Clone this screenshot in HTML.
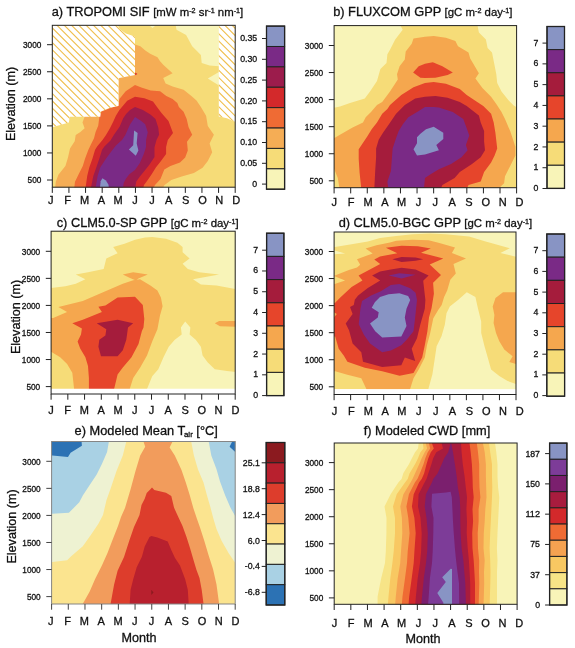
<!DOCTYPE html>
<html><head><meta charset="utf-8"><style>
html,body{margin:0;padding:0;background:#fff;width:575px;height:648px;overflow:hidden}
svg{display:block;font-family:"Liberation Sans", sans-serif;will-change:transform}
text{fill:#111;stroke:#111;stroke-width:0.3px}
</style></head><body>
<svg width="575" height="648" viewBox="0 0 575 648">
<rect width="575" height="648" fill="#fff"/>
<defs>
<clipPath id="clipa"><rect x="52.3" y="25.3" width="182.90" height="161.90"/></clipPath>
<clipPath id="clipb"><rect x="334.1" y="25.6" width="182.50" height="162.10"/></clipPath>
<clipPath id="clipc"><rect x="51.1" y="231.2" width="184.10" height="162.80"/></clipPath>
<clipPath id="clipd"><rect x="334.1" y="232.0" width="181.90" height="162.50"/></clipPath>
<clipPath id="clipe"><rect x="51.6" y="441.5" width="183.60" height="162.50"/></clipPath>
<clipPath id="clipf"><rect x="334.2" y="443.0" width="182.90" height="161.30"/></clipPath>
</defs>
<g clip-path="url(#clipa)">
<polygon points="51.0,24.0 237.0,24.0 237.0,189.0 51.0,189.0" fill="#f6dc78"/>
<polygon points="149.0,25.3 156.0,25.3 152.5,28.0" fill="#f8f4b8"/>
<polygon points="175.7,24.0 175.7,25.3 176.5,29.8 186.1,35.0 192.2,46.3 200.9,55.0 201.7,62.9 209.6,65.5 219.0,66.3 219.0,24.0" fill="#f8f4b8"/>
<polygon points="219.0,72.0 207.8,78.5 219.0,85.5" fill="#f8f4b8"/>
<polygon points="135.0,44.5 140.4,46.3 145.3,50.6 150.2,53.7 157.5,57.3 159.9,61.0 163.2,64.7 172.6,73.3 163.2,78.0 165.6,83.5 172.6,86.6 183.6,89.7 191.4,96.0 196.5,100.5 200.9,107.0 206.1,115.7 207.8,126.1 213.9,134.8 209.6,143.5 212.2,152.2 207.8,160.9 202.6,167.8 193.9,173.0 181.7,176.5 171.3,180.0 164.3,185.2 162.6,189.0 55.0,189.0 55.8,181.7 58.4,174.8 65.4,166.1 68.0,157.4 70.0,148.6 74.7,141.3 75.7,135.0 80.4,131.9 84.6,128.3 82.5,122.5 84.6,116.8 90.0,110.0 118.0,90.0 120.0,60.0" fill="#f5ad55"/>
<polygon points="100.3,112.1 99.2,118.3 98.2,125.7 95.6,131.9 94.0,138.2 90.9,144.4 88.3,150.0 85.0,158.7 82.8,166.1 78.4,174.8 75.0,181.7 74.1,189.0 153.0,189.0 155.0,185.0 160.5,179.0 164.3,169.6 170.4,166.1 180.0,162.6 185.2,157.4 187.8,150.4 187.0,141.7 192.2,134.8 188.5,127.0 186.7,119.0 183.6,111.7 178.9,107.0 177.3,103.0 172.6,99.1 166.3,96.0 160.1,91.3 150.7,90.5 141.3,87.4 135.0,85.0 125.7,91.3 119.4,99.1 118.6,105.0" fill="#ef6b34"/>
<polygon points="127.2,100.7 135.0,96.8 144.4,98.3 153.0,101.5 157.0,107.0 161.7,113.2 168.5,121.0 173.0,133.0 167.8,140.0 166.1,147.0 166.1,153.9 161.0,161.0 156.0,167.3 151.5,174.5 147.0,181.0 144.0,185.0 143.0,189.0 85.4,189.0 87.2,176.1 89.3,167.4 92.4,158.7 95.0,150.0 97.1,146.5 102.5,140.0 106.0,135.0 109.7,128.8 113.3,121.5 115.9,115.7 119.4,110.1" fill="#d3292b"/>
<polygon points="135.0,107.0 142.9,110.1 150.7,114.8 155.5,119.0 158.3,127.8 159.1,134.8 156.5,140.0 154.5,147.3 154.5,157.0 149.7,164.3 144.8,170.4 139.9,176.5 136.3,181.4 135.0,189.0 90.7,189.0 93.3,176.1 96.3,167.4 99.3,158.7 102.0,150.0 104.4,146.5 110.5,140.5 113.8,135.0 119.6,126.7 123.2,118.3 126.3,113.7 130.0,110.0" fill="#9c1c4c"/>
<polygon points="135.0,117.1 141.3,121.0 145.2,124.3 147.8,132.2 146.1,140.0 146.0,147.3 143.6,154.6 139.9,163.1 135.0,170.0 129.3,174.3 125.9,178.7 123.7,183.0 122.8,189.0 95.4,189.0 97.6,176.1 100.2,167.4 105.9,158.7 112.4,150.0 115.9,145.5 122.0,140.0 125.3,135.0 130.0,124.6" fill="#7a2a86"/>
<polygon points="134.1,130.4 137.6,133.0 136.7,143.5 138.4,150.4 135.8,155.7 128.9,149.6 133.2,145.2" fill="#8894c4"/>
<polygon points="102.4,178.3 105.9,180.4 108.5,184.8 108.9,189.0 99.8,189.0 100.7,181.3" fill="#8894c4"/>
<polygon points="135.2,72.6 137.4,73.9 135.2,75.2" fill="#d3292b"/>
<clipPath id="hclip"><polygon points="51.0,24.0 117.9,24.0 117.9,25.6 119.7,29.3 125.8,33.6 135.0,36.6 135.0,74.9 119.4,78.0 118.6,78.8 118.6,105.4 118.4,106.1 110.0,107.7 101.0,111.6 100.3,116.8 69.7,116.8 68.9,122.6 53.2,127.0 51.0,127.0"/><polygon points="218.8,24.0 237.0,24.0 237.0,121.7 234.8,121.7 227.0,118.3 218.8,116.5"/></clipPath><polygon points="51.0,24.0 117.9,24.0 117.9,25.6 119.7,29.3 125.8,33.6 135.0,36.6 135.0,74.9 119.4,78.0 118.6,78.8 118.6,105.4 118.4,106.1 110.0,107.7 101.0,111.6 100.3,116.8 69.7,116.8 68.9,122.6 53.2,127.0 51.0,127.0" fill="#fff"/><polygon points="218.8,24.0 237.0,24.0 237.0,121.7 234.8,121.7 227.0,118.3 218.8,116.5" fill="#fff"/><path clip-path="url(#hclip)" d="M-174.60 20L5.40 200M-167.30 20L12.70 200M-160.00 20L20.00 200M-152.70 20L27.30 200M-145.40 20L34.60 200M-138.10 20L41.90 200M-130.80 20L49.20 200M-123.50 20L56.50 200M-116.20 20L63.80 200M-108.90 20L71.10 200M-101.60 20L78.40 200M-94.30 20L85.70 200M-87.00 20L93.00 200M-79.70 20L100.30 200M-72.40 20L107.60 200M-65.10 20L114.90 200M-57.80 20L122.20 200M-50.50 20L129.50 200M-43.20 20L136.80 200M-35.90 20L144.10 200M-28.60 20L151.40 200M-21.30 20L158.70 200M-14.00 20L166.00 200M-6.70 20L173.30 200M0.60 20L180.60 200M7.90 20L187.90 200M15.20 20L195.20 200M22.50 20L202.50 200M29.80 20L209.80 200M37.10 20L217.10 200M44.40 20L224.40 200M51.70 20L231.70 200M59.00 20L239.00 200M66.30 20L246.30 200M73.60 20L253.60 200M80.90 20L260.90 200M88.20 20L268.20 200M95.50 20L275.50 200M102.80 20L282.80 200M110.10 20L290.10 200M117.40 20L297.40 200M124.70 20L304.70 200M132.00 20L312.00 200M139.30 20L319.30 200M146.60 20L326.60 200M153.90 20L333.90 200M161.20 20L341.20 200M168.50 20L348.50 200M175.80 20L355.80 200M183.10 20L363.10 200M190.40 20L370.40 200M197.70 20L377.70 200M205.00 20L385.00 200M212.30 20L392.30 200M219.60 20L399.60 200M226.90 20L406.90 200M234.20 20L414.20 200M241.50 20L421.50 200M248.80 20L428.80 200M256.10 20L436.10 200" stroke="#f0c050" stroke-width="1.15" fill="none"/>
</g>
<rect x="52.3" y="25.3" width="182.90" height="161.90" fill="none" stroke="#222" stroke-width="1"/>
<path d="M52.30 187.20V192.90M68.93 187.20V192.90M85.55 187.20V192.90M102.18 187.20V192.90M118.81 187.20V192.90M135.44 187.20V192.90M152.06 187.20V192.90M168.69 187.20V192.90M185.32 187.20V192.90M201.95 187.20V192.90M218.57 187.20V192.90M235.20 187.20V192.90M47.00 44.70H52.30M47.00 71.76H52.30M47.00 98.82H52.30M47.00 125.88H52.30M47.00 152.94H52.30M47.00 180.00H52.30" stroke="#222" stroke-width="1" fill="none"/>
<text x="50.80" y="203.90" font-size="11" text-anchor="middle">J</text>
<text x="67.65" y="203.90" font-size="11" text-anchor="middle">F</text>
<text x="84.50" y="203.90" font-size="11" text-anchor="middle">M</text>
<text x="101.35" y="203.90" font-size="11" text-anchor="middle">A</text>
<text x="118.20" y="203.90" font-size="11" text-anchor="middle">M</text>
<text x="135.05" y="203.90" font-size="11" text-anchor="middle">J</text>
<text x="151.90" y="203.90" font-size="11" text-anchor="middle">J</text>
<text x="168.75" y="203.90" font-size="11" text-anchor="middle">A</text>
<text x="185.60" y="203.90" font-size="11" text-anchor="middle">S</text>
<text x="202.45" y="203.90" font-size="11" text-anchor="middle">O</text>
<text x="219.30" y="203.90" font-size="11" text-anchor="middle">N</text>
<text x="236.15" y="203.90" font-size="11" text-anchor="middle">D</text>
<text x="41.40" y="48.10" font-size="8.8" text-anchor="end" textLength="18.4" lengthAdjust="spacingAndGlyphs">3000</text>
<text x="41.40" y="75.16" font-size="8.8" text-anchor="end" textLength="18.4" lengthAdjust="spacingAndGlyphs">2500</text>
<text x="41.40" y="102.22" font-size="8.8" text-anchor="end" textLength="18.4" lengthAdjust="spacingAndGlyphs">2000</text>
<text x="41.40" y="129.28" font-size="8.8" text-anchor="end" textLength="18.4" lengthAdjust="spacingAndGlyphs">1500</text>
<text x="41.40" y="156.34" font-size="8.8" text-anchor="end" textLength="18.4" lengthAdjust="spacingAndGlyphs">1000</text>
<text x="41.40" y="183.40" font-size="8.8" text-anchor="end" textLength="13.8" lengthAdjust="spacingAndGlyphs">500</text>
<g clip-path="url(#clipb)">
<polygon points="333.0,24.0 518.0,24.0 518.0,189.0 333.0,189.0" fill="#f6dc78"/>
<polygon points="333.0,24.0 399.6,24.0 402.7,29.8 395.2,39.4 390.0,49.8 387.4,54.2 386.5,62.9 380.4,69.0 377.0,81.1 370.0,91.6 364.8,98.5 350.0,103.0 340.0,106.5 333.0,108.0" fill="#f8f4b8"/>
<polygon points="477.2,24.0 478.9,32.4 485.9,39.4 487.6,48.1 492.0,52.4 494.6,65.5 496.3,74.2 497.2,82.9 501.5,91.6 508.5,100.3 513.7,105.5 518.0,108.0 518.0,24.0" fill="#f8f4b8"/>
<polygon points="333.0,138.9 340.4,134.6 352.6,127.6 363.0,122.4 365.7,117.2 371.0,112.0 377.0,105.0 382.2,102.0 390.0,91.6 397.8,79.4 397.0,74.2 399.6,66.3 404.8,59.4 405.7,51.6 411.7,43.7 413.5,38.5 425.0,36.8 433.7,35.9 445.9,37.7 455.4,41.1 458.0,46.3 468.5,52.4 470.2,58.5 478.9,73.3 475.4,78.5 482.4,88.1 491.1,96.8 496.3,104.0 501.5,112.0 505.0,118.9 510.2,131.1 515.4,146.7 515.4,155.4 510.2,165.9 505.0,176.3 504.1,183.3 498.0,189.0 339.6,189.0 337.8,178.0 334.3,169.3 333.0,169.3" fill="#f5a74e"/>
<polygon points="413.1,72.4 418.7,66.3 425.0,63.7 432.8,62.3 442.4,66.3 452.8,72.4 447.6,75.0 435.4,77.7 425.0,78.0 420.4,77.7" fill="#e6452b"/>
<polygon points="390.0,105.0 401.3,95.0 413.5,87.2 425.0,82.9 433.7,82.0 445.9,83.7 459.8,89.0 466.7,95.0 477.2,102.0 483.3,106.0 491.1,113.7 493.7,122.4 495.4,132.8 497.2,148.5 494.6,155.4 491.1,162.4 484.1,172.0 480.7,181.5 468.5,185.0 466.7,189.0 361.3,189.0 359.6,172.8 358.7,158.9 358.7,149.3 367.4,136.3 371.7,129.3 377.0,122.4 382.2,113.7 387.4,109.0" fill="#e6452b"/>
<polygon points="404.8,105.0 415.2,98.5 425.0,96.8 435.4,95.9 447.6,97.7 459.8,102.0 466.7,106.0 478.9,115.4 480.7,122.4 484.1,131.1 484.1,141.5 485.0,150.2 480.7,157.2 472.0,164.1 459.8,172.0 454.6,178.0 442.4,185.0 440.7,189.0 374.3,189.0 375.2,171.1 376.1,157.2 376.1,148.5 378.7,139.8 383.0,132.8 389.1,124.1 396.1,113.7" fill="#a51c3c"/>
<polygon points="418.7,111.1 425.0,107.0 433.7,106.9 438.9,107.6 452.8,112.0 463.3,118.9 465.9,125.9 469.3,135.4 465.9,145.0 467.6,150.2 461.5,157.2 451.1,164.1 438.9,169.3 430.2,174.6 425.0,178.0 423.9,189.0 388.3,189.0 387.4,181.5 390.9,171.1 391.7,160.7 392.6,148.5 396.1,138.0 398.7,131.1 403.0,124.1 408.3,117.2" fill="#7a2a86"/>
<polygon points="413.5,149.3 417.0,143.3 417.0,137.2 420.4,133.7 426.0,129.3 433.7,126.7 443.3,132.8 443.3,138.9 436.3,145.0 438.9,150.2 425.0,154.6 417.0,155.4" fill="#8894c4"/>
</g>
<rect x="334.1" y="25.6" width="182.50" height="162.10" fill="none" stroke="#222" stroke-width="1"/>
<path d="M334.10 187.70V193.40M350.69 187.70V193.40M367.28 187.70V193.40M383.87 187.70V193.40M400.46 187.70V193.40M417.05 187.70V193.40M433.65 187.70V193.40M450.24 187.70V193.40M466.83 187.70V193.40M483.42 187.70V193.40M500.01 187.70V193.40M516.60 187.70V193.40M328.80 45.50H334.10M328.80 72.56H334.10M328.80 99.62H334.10M328.80 126.68H334.10M328.80 153.74H334.10M328.80 180.80H334.10" stroke="#222" stroke-width="1" fill="none"/>
<text x="334.30" y="206.00" font-size="11" text-anchor="middle">J</text>
<text x="351.14" y="206.00" font-size="11" text-anchor="middle">F</text>
<text x="367.98" y="206.00" font-size="11" text-anchor="middle">M</text>
<text x="384.82" y="206.00" font-size="11" text-anchor="middle">A</text>
<text x="401.66" y="206.00" font-size="11" text-anchor="middle">M</text>
<text x="418.50" y="206.00" font-size="11" text-anchor="middle">J</text>
<text x="435.34" y="206.00" font-size="11" text-anchor="middle">J</text>
<text x="452.18" y="206.00" font-size="11" text-anchor="middle">A</text>
<text x="469.02" y="206.00" font-size="11" text-anchor="middle">S</text>
<text x="485.86" y="206.00" font-size="11" text-anchor="middle">O</text>
<text x="502.70" y="206.00" font-size="11" text-anchor="middle">N</text>
<text x="519.54" y="206.00" font-size="11" text-anchor="middle">D</text>
<text x="323.20" y="48.90" font-size="8.8" text-anchor="end" textLength="18.4" lengthAdjust="spacingAndGlyphs">3000</text>
<text x="323.20" y="75.96" font-size="8.8" text-anchor="end" textLength="18.4" lengthAdjust="spacingAndGlyphs">2500</text>
<text x="323.20" y="103.02" font-size="8.8" text-anchor="end" textLength="18.4" lengthAdjust="spacingAndGlyphs">2000</text>
<text x="323.20" y="130.08" font-size="8.8" text-anchor="end" textLength="18.4" lengthAdjust="spacingAndGlyphs">1500</text>
<text x="323.20" y="157.14" font-size="8.8" text-anchor="end" textLength="18.4" lengthAdjust="spacingAndGlyphs">1000</text>
<text x="323.20" y="184.20" font-size="8.8" text-anchor="end" textLength="13.8" lengthAdjust="spacingAndGlyphs">500</text>
<g clip-path="url(#clipc)">
<polygon points="50.0,230.0 237.0,230.0 237.0,389.0 50.0,389.0" fill="#f6dc78"/>
<polygon points="50.0,230.0 50.0,288.0 65.4,286.3 75.8,283.7 85.4,279.3 75.8,274.6 88.0,272.3 103.7,268.9 106.3,258.4 117.6,253.2 113.2,247.1 124.5,243.7 135.0,239.8 145.0,237.5 152.2,237.0 166.1,238.8 177.4,242.8 182.6,247.1 182.6,252.3 189.6,258.4 182.6,263.7 187.8,268.9 199.1,272.3 219.1,274.6 193.0,279.3 200.9,284.5 216.5,285.4 235.3,288.9 237.0,288.9 237.0,230.0" fill="#f8f4b8"/>
<polygon points="147.0,389.0 152.2,376.3 158.3,369.3 163.5,357.2 168.7,346.7 174.8,339.8 181.7,334.6 180.9,327.6 185.2,321.5 190.4,327.6 189.6,334.6 195.7,339.8 200.9,346.7 202.6,355.4 207.8,362.4 214.8,369.3 227.0,371.1 237.0,372.0 237.0,389.0" fill="#f8f4b8"/>
<polygon points="122.8,274.6 133.2,272.3 147.8,274.6 138.4,278.4 136.0,280.5 130.0,278.0" fill="#f5a74e"/>
<polygon points="58.4,307.1 82.8,301.0 96.7,295.0 110.6,288.9 122.8,283.7 133.2,280.2 140.0,279.3 150.4,285.4 157.4,290.6 160.9,297.6 162.6,306.3 160.0,315.4 157.4,329.3 152.2,341.5 147.0,355.4 140.2,367.6 133.2,378.0 129.7,389.0 74.1,389.0 72.3,372.8 67.1,364.1 60.2,357.2 51.5,352.0 50.0,352.0 50.0,318.0 53.2,318.0 67.1,312.0" fill="#f5a74e"/>
<polygon points="214.8,323.3 219.1,321.0 237.0,321.0 237.0,326.7 220.0,326.2" fill="#f5a74e"/>
<polygon points="98.4,306.7 105.4,305.4 117.6,297.6 135.0,296.7 142.8,305.0 144.3,318.9 143.5,327.6 141.9,331.1 138.5,344.0 131.5,357.2 122.8,367.6 117.6,374.6 114.1,389.0 88.9,389.0 88.9,378.0 88.0,365.9 85.4,357.2 80.2,348.5 77.6,341.5 81.0,334.6 81.9,328.5 72.3,323.3 82.8,319.8 101.9,312.0" fill="#e6452b"/>
<polygon points="96.7,323.3 117.6,319.8 133.2,323.3 128.0,327.6 126.3,339.8 122.8,350.2 117.6,356.3 101.0,356.3 98.4,346.7 99.3,339.8 105.4,335.4 106.3,329.3" fill="#a51c3c"/>
<polygon points="50.0,388.8 237.0,388.8 237.0,400.0 50.0,400.0" fill="#ffffff"/>
</g>
<rect x="51.1" y="231.2" width="184.10" height="162.80" fill="none" stroke="#222" stroke-width="1"/>
<path d="M51.10 394.00V399.70M67.84 394.00V399.70M84.57 394.00V399.70M101.31 394.00V399.70M118.05 394.00V399.70M134.78 394.00V399.70M151.52 394.00V399.70M168.25 394.00V399.70M184.99 394.00V399.70M201.73 394.00V399.70M218.46 394.00V399.70M235.20 394.00V399.70M45.80 251.30H51.10M45.80 278.36H51.10M45.80 305.42H51.10M45.80 332.48H51.10M45.80 359.54H51.10M45.80 386.60H51.10" stroke="#222" stroke-width="1" fill="none"/>
<text x="50.90" y="413.60" font-size="11" text-anchor="middle">J</text>
<text x="67.67" y="413.60" font-size="11" text-anchor="middle">F</text>
<text x="84.44" y="413.60" font-size="11" text-anchor="middle">M</text>
<text x="101.21" y="413.60" font-size="11" text-anchor="middle">A</text>
<text x="117.98" y="413.60" font-size="11" text-anchor="middle">M</text>
<text x="134.75" y="413.60" font-size="11" text-anchor="middle">J</text>
<text x="151.52" y="413.60" font-size="11" text-anchor="middle">J</text>
<text x="168.29" y="413.60" font-size="11" text-anchor="middle">A</text>
<text x="185.06" y="413.60" font-size="11" text-anchor="middle">S</text>
<text x="201.83" y="413.60" font-size="11" text-anchor="middle">O</text>
<text x="218.60" y="413.60" font-size="11" text-anchor="middle">N</text>
<text x="235.37" y="413.60" font-size="11" text-anchor="middle">D</text>
<text x="40.20" y="254.70" font-size="8.8" text-anchor="end" textLength="18.4" lengthAdjust="spacingAndGlyphs">3000</text>
<text x="40.20" y="281.76" font-size="8.8" text-anchor="end" textLength="18.4" lengthAdjust="spacingAndGlyphs">2500</text>
<text x="40.20" y="308.82" font-size="8.8" text-anchor="end" textLength="18.4" lengthAdjust="spacingAndGlyphs">2000</text>
<text x="40.20" y="335.88" font-size="8.8" text-anchor="end" textLength="18.4" lengthAdjust="spacingAndGlyphs">1500</text>
<text x="40.20" y="362.94" font-size="8.8" text-anchor="end" textLength="18.4" lengthAdjust="spacingAndGlyphs">1000</text>
<text x="40.20" y="390.00" font-size="8.8" text-anchor="end" textLength="13.8" lengthAdjust="spacingAndGlyphs">500</text>
<g clip-path="url(#clipd)">
<polygon points="333.0,231.0 517.0,231.0 517.0,389.2 333.0,389.2" fill="#f6dc78"/>
<polygon points="333.0,231.0 517.0,231.0 517.0,257.0 500.4,253.0 509.8,248.3 484.8,241.3 469.1,236.6 445.7,234.3 430.0,233.5 412.4,234.3 396.2,235.9 380.0,238.1 367.8,241.5 351.6,244.2 334.9,246.9 333.0,246.9" fill="#f8f4b8"/>
<polygon points="333.0,250.1 345.1,253.4 333.0,254.4" fill="#f8f4b8"/>
<polygon points="428.3,389.2 432.4,374.3 434.9,357.8 436.6,346.3 441.5,336.3 444.8,324.8 446.5,313.2 449.8,306.6 458.0,300.0 466.8,292.2 475.4,296.9 477.9,308.3 481.2,321.5 481.2,333.0 484.5,346.3 487.8,357.8 491.1,369.4 499.3,376.0 507.6,381.0 517.0,384.3 517.0,389.2" fill="#f8f4b8"/>
<polygon points="334.9,275.5 348.9,270.1 357.0,267.4 360.2,264.7 357.0,259.3 372.7,253.4 365.6,248.5 376.5,245.3 390.0,242.6 396.2,240.8 412.4,239.7 428.6,240.3 439.4,242.9 455.0,247.6 451.9,253.0 466.0,258.5 453.5,264.0 455.8,273.4 450.3,279.7 447.2,290.6 444.1,296.9 441.7,305.0 438.2,310.0 433.3,318.2 430.0,334.0 427.0,345.0 424.8,357.4 418.7,369.6 413.5,378.3 410.0,389.2 366.5,389.2 361.3,378.3 347.4,374.8 335.2,371.3 333.0,371.3 333.0,284.7 345.1,280.4 333.0,275.5" fill="#f5a74e"/>
<polygon points="517.0,292.2 503.0,292.2 495.5,298.0 492.7,306.6 494.4,314.9 493.6,323.1 496.0,333.0 499.3,341.3 504.3,349.6 512.6,356.2 509.3,362.0 517.0,364.4" fill="#f5a74e"/>
<polygon points="385.9,247.8 401.6,245.7 417.8,246.2 430.8,248.4 421.0,252.7 443.3,258.5 429.7,264.6 441.0,275.0 433.1,282.8 433.9,293.7 431.6,308.0 429.0,317.4 427.4,331.3 424.8,345.2 422.2,357.4 413.5,373.0 399.6,375.7 382.2,371.3 364.8,367.8 347.4,361.7 343.9,355.7 338.7,348.7 335.2,336.5 333.0,336.5 333.0,303.0 334.9,303.0 340.8,297.0 343.0,295.0 351.6,286.9 362.4,280.4 358.6,275.5 380.2,264.0 374.3,259.6 380.0,256.5 397.3,253.2" fill="#e6452b"/>
<polygon points="333.0,311.7 336.8,314.1 333.0,318.8" fill="#f5a74e"/>
<polygon points="392.4,259.2 401.6,257.0 415.6,257.5 423.2,259.2 415.6,260.8 401.6,261.9" fill="#a51c3c"/>
<polygon points="372.1,275.5 380.0,271.6 390.8,269.4 401.6,267.8 415.6,269.4 428.6,275.4 423.2,280.8 424.3,290.5 425.4,300.0 424.8,308.7 420.4,324.3 417.0,338.3 411.7,348.7 415.2,360.9 404.8,357.4 401.3,365.2 382.2,367.0 363.0,361.7 361.3,352.2 352.6,343.5 349.1,330.4 345.7,323.5 352.6,313.9 350.0,307.0 353.8,305.0 354.8,299.8 358.1,295.5 367.8,287.9 380.2,280.4" fill="#a51c3c"/>
<polygon points="388.6,275.4 399.4,273.2 415.6,274.8 401.6,278.6" fill="#7a2a86"/>
<polygon points="371.0,295.5 380.8,291.2 390.8,285.1 399.4,284.0 410.2,288.3 415.6,292.7 417.0,300.0 415.2,317.4 413.5,331.3 406.5,340.0 401.3,345.2 390.9,350.4 382.2,352.2 370.0,343.5 363.9,334.8 358.7,324.3 360.4,308.7 362.0,301.0" fill="#7a2a86"/>
<polygon points="380.0,297.0 388.6,294.3 399.4,293.2 408.1,295.9 410.2,300.0 406.5,308.7 404.8,317.4 406.5,326.1 401.3,336.5 382.2,337.4 375.2,331.3 370.0,323.5 377.8,317.4 378.7,312.2 371.7,307.8 375.0,302.0" fill="#8894c4"/>
<polygon points="333.0,389.2 517.0,389.2 517.0,400.0 333.0,400.0" fill="#ffffff"/>
</g>
<rect x="334.1" y="232.0" width="181.90" height="162.50" fill="none" stroke="#222" stroke-width="1"/>
<path d="M334.10 394.50V400.20M350.64 394.50V400.20M367.17 394.50V400.20M383.71 394.50V400.20M400.25 394.50V400.20M416.78 394.50V400.20M433.32 394.50V400.20M449.85 394.50V400.20M466.39 394.50V400.20M482.93 394.50V400.20M499.46 394.50V400.20M516.00 394.50V400.20M328.80 251.50H334.10M328.80 278.56H334.10M328.80 305.62H334.10M328.80 332.68H334.10M328.80 359.74H334.10M328.80 386.80H334.10" stroke="#222" stroke-width="1" fill="none"/>
<text x="334.60" y="414.50" font-size="11" text-anchor="middle">J</text>
<text x="351.44" y="414.50" font-size="11" text-anchor="middle">F</text>
<text x="368.28" y="414.50" font-size="11" text-anchor="middle">M</text>
<text x="385.12" y="414.50" font-size="11" text-anchor="middle">A</text>
<text x="401.96" y="414.50" font-size="11" text-anchor="middle">M</text>
<text x="418.80" y="414.50" font-size="11" text-anchor="middle">J</text>
<text x="435.64" y="414.50" font-size="11" text-anchor="middle">J</text>
<text x="452.48" y="414.50" font-size="11" text-anchor="middle">A</text>
<text x="469.32" y="414.50" font-size="11" text-anchor="middle">S</text>
<text x="486.16" y="414.50" font-size="11" text-anchor="middle">O</text>
<text x="503.00" y="414.50" font-size="11" text-anchor="middle">N</text>
<text x="519.84" y="414.50" font-size="11" text-anchor="middle">D</text>
<text x="323.20" y="254.90" font-size="8.8" text-anchor="end" textLength="18.4" lengthAdjust="spacingAndGlyphs">3000</text>
<text x="323.20" y="281.96" font-size="8.8" text-anchor="end" textLength="18.4" lengthAdjust="spacingAndGlyphs">2500</text>
<text x="323.20" y="309.02" font-size="8.8" text-anchor="end" textLength="18.4" lengthAdjust="spacingAndGlyphs">2000</text>
<text x="323.20" y="336.08" font-size="8.8" text-anchor="end" textLength="18.4" lengthAdjust="spacingAndGlyphs">1500</text>
<text x="323.20" y="363.14" font-size="8.8" text-anchor="end" textLength="18.4" lengthAdjust="spacingAndGlyphs">1000</text>
<text x="323.20" y="390.20" font-size="8.8" text-anchor="end" textLength="13.8" lengthAdjust="spacingAndGlyphs">500</text>
<g clip-path="url(#clipe)">
<polygon points="50.0,440.0 237.0,440.0 237.0,606.0 50.0,606.0" fill="#eef2d2"/>
<polygon points="50.0,440.0 108.9,440.0 108.9,441.5 107.1,451.9 101.9,464.1 96.7,474.5 89.7,485.0 82.8,495.4 79.3,502.3 68.9,512.8 52.3,513.7 50.0,513.7" fill="#a9d1e4"/>
<polygon points="50.0,440.0 81.6,440.0 81.6,441.5 81.9,445.8 70.6,452.8 68.0,457.1 52.3,455.4 50.0,455.4" fill="#2c72b4"/>
<polygon points="208.7,440.0 208.7,441.5 211.3,455.4 216.5,469.3 220.0,481.5 225.2,495.4 230.4,507.6 235.3,516.3 237.0,516.3 237.0,440.0" fill="#a9d1e4"/>
<polygon points="232.2,440.0 232.2,441.5 229.6,446.7 235.3,451.9 237.0,451.9 237.0,440.0" fill="#2c72b4"/>
<polygon points="126.3,440.0 126.3,441.5 122.8,455.4 116.5,471.0 110.8,488.0 106.5,500.0 103.0,515.0 98.4,523.7 91.5,534.1 82.8,546.3 70.6,556.7 67.1,560.2 52.3,562.0 50.0,562.0 50.0,606.0 237.0,606.0 237.0,565.4 228.7,553.3 221.7,541.1 216.5,528.9 213.5,519.0 210.5,507.6 207.0,495.4 203.5,482.5 198.0,469.5 193.9,455.4 191.3,442.0 191.3,440.0" fill="#fbe48f"/>
<polygon points="143.5,440.0 143.5,441.5 145.2,446.7 140.2,455.4 135.5,471.0 130.5,489.5 125.0,508.0 121.0,517.0 118.0,526.0 112.5,540.0 107.5,553.0 101.9,565.4 95.0,579.3 89.7,591.5 82.8,603.7 82.0,606.0 219.5,606.0 219.1,603.7 216.5,584.6 213.0,568.9 208.5,555.0 204.5,541.5 200.0,527.5 197.0,519.0 193.3,508.0 189.7,495.0 185.8,482.5 181.5,470.0 174.8,455.4 169.6,447.6 172.2,442.3 172.2,440.0" fill="#f29c5c"/>
<polygon points="152.0,487.6 154.3,490.0 166.0,492.8 171.3,496.0 174.0,507.6 178.3,517.0 182.5,526.0 186.5,537.0 190.0,548.0 193.5,560.0 196.5,570.0 199.5,578.0 201.7,589.8 203.5,603.7 203.6,606.0 110.5,606.0 110.6,603.7 114.1,584.6 117.6,570.7 124.0,557.0 129.5,540.0 134.0,527.0 139.5,515.0 141.5,505.0 144.7,498.7 146.7,493.0 150.4,489.3" fill="#dd3d2c"/>
<polygon points="151.4,536.0 157.4,537.6 167.7,541.5 171.5,550.4 175.0,558.0 180.0,565.4 185.2,579.3 187.8,589.8 188.7,603.7 188.8,606.0 129.6,606.0 129.7,603.7 130.6,589.8 133.2,579.3 136.7,567.2 141.9,556.7 144.7,546.5 149.5,537.0" fill="#b8202e"/>
<polygon points="151.3,589.8 153.5,592.5 151.3,595.0" fill="#8b1a1f"/>
</g>
<rect x="51.6" y="441.5" width="183.60" height="162.50" fill="none" stroke="#858585" stroke-width="1"/>
<path d="M51.60 604.00V609.70M68.29 604.00V609.70M84.98 604.00V609.70M101.67 604.00V609.70M118.36 604.00V609.70M135.05 604.00V609.70M151.75 604.00V609.70M168.44 604.00V609.70M185.13 604.00V609.70M201.82 604.00V609.70M218.51 604.00V609.70M235.20 604.00V609.70M46.30 461.30H51.60M46.30 488.36H51.60M46.30 515.42H51.60M46.30 542.48H51.60M46.30 569.54H51.60M46.30 596.60H51.60" stroke="#444" stroke-width="1" fill="none"/>
<text x="50.80" y="624.70" font-size="11" text-anchor="middle">J</text>
<text x="67.60" y="624.70" font-size="11" text-anchor="middle">F</text>
<text x="84.40" y="624.70" font-size="11" text-anchor="middle">M</text>
<text x="101.20" y="624.70" font-size="11" text-anchor="middle">A</text>
<text x="118.00" y="624.70" font-size="11" text-anchor="middle">M</text>
<text x="134.80" y="624.70" font-size="11" text-anchor="middle">J</text>
<text x="151.60" y="624.70" font-size="11" text-anchor="middle">J</text>
<text x="168.40" y="624.70" font-size="11" text-anchor="middle">A</text>
<text x="185.20" y="624.70" font-size="11" text-anchor="middle">S</text>
<text x="202.00" y="624.70" font-size="11" text-anchor="middle">O</text>
<text x="218.80" y="624.70" font-size="11" text-anchor="middle">N</text>
<text x="235.60" y="624.70" font-size="11" text-anchor="middle">D</text>
<text x="40.70" y="464.70" font-size="8.8" text-anchor="end" textLength="18.4" lengthAdjust="spacingAndGlyphs">3000</text>
<text x="40.70" y="491.76" font-size="8.8" text-anchor="end" textLength="18.4" lengthAdjust="spacingAndGlyphs">2500</text>
<text x="40.70" y="518.82" font-size="8.8" text-anchor="end" textLength="18.4" lengthAdjust="spacingAndGlyphs">2000</text>
<text x="40.70" y="545.88" font-size="8.8" text-anchor="end" textLength="18.4" lengthAdjust="spacingAndGlyphs">1500</text>
<text x="40.70" y="572.94" font-size="8.8" text-anchor="end" textLength="18.4" lengthAdjust="spacingAndGlyphs">1000</text>
<text x="40.70" y="600.00" font-size="8.8" text-anchor="end" textLength="13.8" lengthAdjust="spacingAndGlyphs">500</text>
<g clip-path="url(#clipf)">
<polygon points="332.0,441.5 519.0,441.5 519.0,606.0 332.0,606.0" fill="#f8f4b8"/>
<polygon points="418.6,441.5 418.6,443.5 418.0,448.5 415.0,452.2 411.9,458.3 408.9,464.3 403.4,473.0 401.6,479.0 398.5,482.2 390.6,494.3 384.5,506.5 386.5,518.0 386.4,533.3 385.8,551.5 385.0,563.0 381.2,578.3 377.6,596.5 377.6,604.0 377.6,606.0 497.0,606.0 497.0,604.0 497.0,583.3 497.0,572.0 497.5,560.4 496.9,548.3 497.5,533.0 498.1,521.5 498.7,509.3 499.3,497.2 498.1,487.4 497.5,476.5 497.5,464.3 496.3,452.2 495.0,443.1 495.0,441.5" fill="#f7e487"/>
<polygon points="422.9,441.5 422.9,443.5 423.5,448.5 420.4,452.2 418.0,458.3 415.0,464.3 409.5,473.5 407.7,479.0 405.2,482.2 396.7,494.3 393.0,506.5 395.0,518.0 395.0,533.3 393.7,551.5 392.4,563.0 390.3,578.3 388.5,596.5 387.9,604.0 387.9,606.0 489.7,606.0 489.7,604.0 490.3,583.3 490.5,572.0 490.2,560.4 489.6,548.3 490.2,533.0 490.8,521.5 491.4,509.3 492.0,497.2 492.3,487.4 492.0,476.5 492.0,464.3 490.2,452.2 489.0,443.1 489.0,441.5" fill="#f8c862"/>
<polygon points="425.9,441.5 425.9,443.5 427.1,448.5 424.7,452.2 421.7,458.3 419.2,464.3 415.0,473.5 412.5,479.0 410.7,482.2 403.4,494.3 400.3,506.5 401.9,518.0 402.3,533.3 401.0,551.5 400.2,563.0 397.7,578.3 395.8,596.5 395.2,604.0 395.2,606.0 483.6,606.0 483.6,604.0 484.2,583.3 484.0,572.0 484.7,560.4 483.5,548.3 483.8,533.0 484.7,521.5 485.3,509.3 486.5,497.2 486.2,487.4 485.9,476.5 485.9,464.3 484.7,452.2 482.9,443.1 482.9,441.5" fill="#f5a251"/>
<polygon points="429.0,441.5 429.0,443.5 430.2,448.5 427.7,452.2 425.3,458.3 423.5,464.3 419.8,473.5 417.4,479.0 415.0,482.2 408.9,494.3 406.4,506.5 408.3,518.0 409.6,533.3 407.7,551.5 407.0,563.0 405.0,578.3 402.5,596.5 401.9,604.0 401.9,606.0 478.7,606.0 478.7,604.0 479.3,583.3 479.0,572.0 479.2,560.4 478.0,548.3 477.7,533.0 478.6,521.5 478.6,509.3 480.4,497.2 479.5,487.4 479.2,476.5 479.2,464.3 478.0,452.2 476.8,443.1 476.8,441.5" fill="#ef6b34"/>
<polygon points="432.0,441.5 432.0,443.5 433.8,448.5 430.8,452.2 428.3,458.3 426.5,464.3 424.1,473.5 421.7,479.0 419.2,482.2 413.7,494.3 411.9,506.5 414.4,518.0 415.7,533.3 414.4,551.5 413.7,563.0 411.7,578.3 409.2,596.5 408.6,604.0 408.6,606.0 475.0,606.0 475.0,604.0 475.0,583.3 474.4,572.0 473.7,560.4 472.5,548.3 472.2,533.0 473.1,521.5 472.5,509.3 473.7,497.2 472.8,487.4 472.5,476.5 471.9,464.3 470.7,452.2 469.5,443.1 469.5,441.5" fill="#d3292b"/>
<polygon points="441.7,441.5 441.7,443.5 443.0,448.5 436.3,452.2 433.2,458.3 431.4,464.3 428.3,473.5 426.5,479.0 424.7,482.2 418.6,494.3 418.0,506.5 420.5,518.0 421.7,533.3 421.1,551.5 420.0,563.0 417.7,578.3 415.9,596.5 415.3,604.0 415.3,606.0 470.2,606.0 470.2,604.0 470.2,583.3 469.6,572.0 468.9,560.4 467.7,548.3 466.7,533.0 467.0,521.5 466.4,509.3 467.0,497.2 465.8,487.4 464.6,476.5 462.8,464.3 461.6,452.2 461.0,443.1 461.0,441.5" fill="#a81c3e"/>
<polygon points="450.9,441.5 450.6,443.1 448.2,452.2 444.2,458.3 441.7,464.3 437.5,473.5 433.2,479.0 432.0,482.2 425.9,494.3 424.7,506.5 426.5,518.0 427.8,533.3 427.2,551.5 426.0,563.0 423.8,578.3 422.0,596.5 421.4,604.0 421.4,606.0 465.9,606.0 465.9,604.0 465.3,583.3 464.3,572.0 463.4,560.4 461.6,548.3 460.6,533.0 460.3,521.5 460.3,509.3 459.7,497.2 457.9,487.4 456.7,476.5 454.9,464.3 453.0,452.2 451.2,443.1" fill="#7b1f6e"/>
<polygon points="432.0,493.7 446.0,492.5 450.6,491.7 451.8,497.2 452.4,509.3 453.0,521.5 453.7,532.4 454.9,548.3 456.1,560.4 457.5,572.0 459.0,583.3 459.2,604.0 459.2,606.0 428.1,606.0 428.1,604.0 428.7,596.5 429.9,578.3 432.0,563.0 432.7,551.5 433.3,533.3 433.5,518.0 431.4,506.5 432.0,494.3" fill="#7d3c98"/>
<polygon points="450.7,568.7 452.0,569.0 452.0,606.0 443.4,606.0 443.4,602.7 437.3,593.0 445.8,582.0 442.2,577.2" fill="#8894c4"/>
</g>
<rect x="334.2" y="443.0" width="182.90" height="161.30" fill="none" stroke="#222" stroke-width="1"/>
<path d="M334.20 604.30V610.00M350.83 604.30V610.00M367.45 604.30V610.00M384.08 604.30V610.00M400.71 604.30V610.00M417.34 604.30V610.00M433.96 604.30V610.00M450.59 604.30V610.00M467.22 604.30V610.00M483.85 604.30V610.00M500.47 604.30V610.00M517.10 604.30V610.00M328.90 462.60H334.20M328.90 489.66H334.20M328.90 516.72H334.20M328.90 543.78H334.20M328.90 570.84H334.20M328.90 597.90H334.20" stroke="#222" stroke-width="1" fill="none"/>
<text x="334.40" y="627.30" font-size="11" text-anchor="middle">J</text>
<text x="351.20" y="627.30" font-size="11" text-anchor="middle">F</text>
<text x="368.00" y="627.30" font-size="11" text-anchor="middle">M</text>
<text x="384.80" y="627.30" font-size="11" text-anchor="middle">A</text>
<text x="401.60" y="627.30" font-size="11" text-anchor="middle">M</text>
<text x="418.40" y="627.30" font-size="11" text-anchor="middle">J</text>
<text x="435.20" y="627.30" font-size="11" text-anchor="middle">J</text>
<text x="452.00" y="627.30" font-size="11" text-anchor="middle">A</text>
<text x="468.80" y="627.30" font-size="11" text-anchor="middle">S</text>
<text x="485.60" y="627.30" font-size="11" text-anchor="middle">O</text>
<text x="502.40" y="627.30" font-size="11" text-anchor="middle">N</text>
<text x="519.20" y="627.30" font-size="11" text-anchor="middle">D</text>
<text x="323.30" y="466.00" font-size="8.8" text-anchor="end" textLength="18.4" lengthAdjust="spacingAndGlyphs">3000</text>
<text x="323.30" y="493.06" font-size="8.8" text-anchor="end" textLength="18.4" lengthAdjust="spacingAndGlyphs">2500</text>
<text x="323.30" y="520.12" font-size="8.8" text-anchor="end" textLength="18.4" lengthAdjust="spacingAndGlyphs">2000</text>
<text x="323.30" y="547.18" font-size="8.8" text-anchor="end" textLength="18.4" lengthAdjust="spacingAndGlyphs">1500</text>
<text x="323.30" y="574.24" font-size="8.8" text-anchor="end" textLength="18.4" lengthAdjust="spacingAndGlyphs">1000</text>
<text x="323.30" y="601.30" font-size="8.8" text-anchor="end" textLength="13.8" lengthAdjust="spacingAndGlyphs">500</text>
<text x="51.7" y="16.4" font-size="12.8">a) TROPOMI SIF <tspan font-size="11.4">[mW m<tspan font-size="7.2" dy="-3.3">-2</tspan><tspan dy="3.3"> sr</tspan><tspan font-size="7.2" dy="-3.3">-1</tspan><tspan dy="3.3"> nm</tspan><tspan font-size="7.2" dy="-3.3">-1</tspan><tspan dy="3.3">]</tspan></tspan></text>
<text x="333.2" y="16.4" font-size="12.8">b) FLUXCOM GPP <tspan font-size="11.4">[gC m<tspan font-size="7.2" dy="-3.3">-2</tspan><tspan dy="3.3"> day</tspan><tspan font-size="7.2" dy="-3.3">-1</tspan><tspan dy="3.3">]</tspan></tspan></text>
<text x="56.7" y="227.4" font-size="12.8">c) CLM5.0-SP GPP <tspan font-size="11.4">[gC m<tspan font-size="7.2" dy="-3.3">-2</tspan><tspan dy="3.3"> day</tspan><tspan font-size="7.2" dy="-3.3">-1</tspan><tspan dy="3.3">]</tspan></tspan></text>
<text x="338.7" y="227.4" font-size="12.8">d) CLM5.0-BGC GPP <tspan font-size="11.4">[gC m<tspan font-size="7.2" dy="-3.3">-2</tspan><tspan dy="3.3"> day</tspan><tspan font-size="7.2" dy="-3.3">-1</tspan><tspan dy="3.3">]</tspan></tspan></text>
<text x="74.6" y="435.3" font-size="12.8">e) Modeled Mean T<tspan font-size="8" dy="2.1" dx="-1.4">air</tspan><tspan dy="-2.1"> [°C]</tspan></text>
<text x="363.7" y="434.5" font-size="12.8">f) Modeled CWD [mm]</text>
<text transform="translate(15.2,104.0) rotate(-90)" font-size="12.6" text-anchor="middle">Elevation (m)</text>
<text transform="translate(19.7,317.0) rotate(-90)" font-size="12.6" text-anchor="middle">Elevation (m)</text>
<text transform="translate(16.4,526.5) rotate(-90)" font-size="12.6" text-anchor="middle">Elevation (m)</text>
<text x="139.1" y="642" font-size="12.6" text-anchor="middle">Month</text>
<text x="423" y="643.3" font-size="12.6" text-anchor="middle">Month</text>
<rect x="266.5" y="26.10" width="18.10" height="20.39" fill="#8894c4" stroke="#222" stroke-width="1"/>
<rect x="266.5" y="46.49" width="18.10" height="20.39" fill="#7a2a86" stroke="#222" stroke-width="1"/>
<rect x="266.5" y="66.88" width="18.10" height="20.39" fill="#9c1c4c" stroke="#222" stroke-width="1"/>
<rect x="266.5" y="87.26" width="18.10" height="20.39" fill="#d3292b" stroke="#222" stroke-width="1"/>
<rect x="266.5" y="107.65" width="18.10" height="20.39" fill="#ef6b34" stroke="#222" stroke-width="1"/>
<rect x="266.5" y="128.04" width="18.10" height="20.39" fill="#f5ad55" stroke="#222" stroke-width="1"/>
<rect x="266.5" y="148.42" width="18.10" height="20.39" fill="#f6dc78" stroke="#222" stroke-width="1"/>
<rect x="266.5" y="168.81" width="18.10" height="20.39" fill="#f8f4b8" stroke="#222" stroke-width="1"/>
<rect x="266.5" y="26.1" width="18.10" height="163.10" fill="none" stroke="#222" stroke-width="1.3"/>
<path d="M262.00 38.50H266.5" stroke="#222" stroke-width="1"/>
<text x="257.2" y="41.20" font-size="9.2" text-anchor="end" textLength="17.03" lengthAdjust="spacingAndGlyphs">0.35</text>
<path d="M262.00 59.30H266.5" stroke="#222" stroke-width="1"/>
<text x="257.2" y="62.00" font-size="9.2" text-anchor="end" textLength="17.03" lengthAdjust="spacingAndGlyphs">0.30</text>
<path d="M262.00 80.10H266.5" stroke="#222" stroke-width="1"/>
<text x="257.2" y="82.80" font-size="9.2" text-anchor="end" textLength="17.03" lengthAdjust="spacingAndGlyphs">0.25</text>
<path d="M262.00 100.90H266.5" stroke="#222" stroke-width="1"/>
<text x="257.2" y="103.60" font-size="9.2" text-anchor="end" textLength="17.03" lengthAdjust="spacingAndGlyphs">0.20</text>
<path d="M262.00 121.70H266.5" stroke="#222" stroke-width="1"/>
<text x="257.2" y="124.40" font-size="9.2" text-anchor="end" textLength="17.03" lengthAdjust="spacingAndGlyphs">0.15</text>
<path d="M262.00 142.50H266.5" stroke="#222" stroke-width="1"/>
<text x="257.2" y="145.20" font-size="9.2" text-anchor="end" textLength="17.03" lengthAdjust="spacingAndGlyphs">0.10</text>
<path d="M262.00 163.30H266.5" stroke="#222" stroke-width="1"/>
<text x="257.2" y="166.00" font-size="9.2" text-anchor="end" textLength="17.03" lengthAdjust="spacingAndGlyphs">0.05</text>
<path d="M262.00 184.10H266.5" stroke="#222" stroke-width="1"/>
<text x="257.2" y="186.80" font-size="9.2" text-anchor="end" textLength="4.87" lengthAdjust="spacingAndGlyphs">0</text>
<rect x="547" y="26.50" width="17.50" height="23.13" fill="#8894c4" stroke="#222" stroke-width="1"/>
<rect x="547" y="49.63" width="17.50" height="23.13" fill="#7a2a86" stroke="#222" stroke-width="1"/>
<rect x="547" y="72.76" width="17.50" height="23.13" fill="#a51c3c" stroke="#222" stroke-width="1"/>
<rect x="547" y="95.89" width="17.50" height="23.13" fill="#e6452b" stroke="#222" stroke-width="1"/>
<rect x="547" y="119.01" width="17.50" height="23.13" fill="#f5a74e" stroke="#222" stroke-width="1"/>
<rect x="547" y="142.14" width="17.50" height="23.13" fill="#f6dc78" stroke="#222" stroke-width="1"/>
<rect x="547" y="165.27" width="17.50" height="23.13" fill="#f8f4b8" stroke="#222" stroke-width="1"/>
<rect x="547" y="26.5" width="17.50" height="161.90" fill="none" stroke="#222" stroke-width="1.3"/>
<path d="M542.50 43.10H547" stroke="#222" stroke-width="1"/>
<text x="538.3" y="45.70" font-size="9.2" text-anchor="end" textLength="4.87" lengthAdjust="spacingAndGlyphs">7</text>
<path d="M542.50 63.87H547" stroke="#222" stroke-width="1"/>
<text x="538.3" y="66.47" font-size="9.2" text-anchor="end" textLength="4.87" lengthAdjust="spacingAndGlyphs">6</text>
<path d="M542.50 84.64H547" stroke="#222" stroke-width="1"/>
<text x="538.3" y="87.24" font-size="9.2" text-anchor="end" textLength="4.87" lengthAdjust="spacingAndGlyphs">5</text>
<path d="M542.50 105.41H547" stroke="#222" stroke-width="1"/>
<text x="538.3" y="108.01" font-size="9.2" text-anchor="end" textLength="4.87" lengthAdjust="spacingAndGlyphs">4</text>
<path d="M542.50 126.18H547" stroke="#222" stroke-width="1"/>
<text x="538.3" y="128.78" font-size="9.2" text-anchor="end" textLength="4.87" lengthAdjust="spacingAndGlyphs">3</text>
<path d="M542.50 146.95H547" stroke="#222" stroke-width="1"/>
<text x="538.3" y="149.55" font-size="9.2" text-anchor="end" textLength="4.87" lengthAdjust="spacingAndGlyphs">2</text>
<path d="M542.50 167.72H547" stroke="#222" stroke-width="1"/>
<text x="538.3" y="170.32" font-size="9.2" text-anchor="end" textLength="4.87" lengthAdjust="spacingAndGlyphs">1</text>
<path d="M542.50 188.49H547" stroke="#222" stroke-width="1"/>
<text x="538.3" y="191.09" font-size="9.2" text-anchor="end" textLength="4.87" lengthAdjust="spacingAndGlyphs">0</text>
<rect x="266.6" y="233.20" width="17.30" height="23.20" fill="#8894c4" stroke="#222" stroke-width="1"/>
<rect x="266.6" y="256.40" width="17.30" height="23.20" fill="#7a2a86" stroke="#222" stroke-width="1"/>
<rect x="266.6" y="279.60" width="17.30" height="23.20" fill="#a51c3c" stroke="#222" stroke-width="1"/>
<rect x="266.6" y="302.80" width="17.30" height="23.20" fill="#e6452b" stroke="#222" stroke-width="1"/>
<rect x="266.6" y="326.00" width="17.30" height="23.20" fill="#f5a74e" stroke="#222" stroke-width="1"/>
<rect x="266.6" y="349.20" width="17.30" height="23.20" fill="#f6dc78" stroke="#222" stroke-width="1"/>
<rect x="266.6" y="372.40" width="17.30" height="23.20" fill="#f8f4b8" stroke="#222" stroke-width="1"/>
<rect x="266.6" y="233.2" width="17.30" height="162.40" fill="none" stroke="#222" stroke-width="1.3"/>
<path d="M262.10 250.20H266.6" stroke="#222" stroke-width="1"/>
<text x="258" y="252.70" font-size="9.2" text-anchor="end" textLength="4.87" lengthAdjust="spacingAndGlyphs">7</text>
<path d="M262.10 270.97H266.6" stroke="#222" stroke-width="1"/>
<text x="258" y="273.47" font-size="9.2" text-anchor="end" textLength="4.87" lengthAdjust="spacingAndGlyphs">6</text>
<path d="M262.10 291.74H266.6" stroke="#222" stroke-width="1"/>
<text x="258" y="294.24" font-size="9.2" text-anchor="end" textLength="4.87" lengthAdjust="spacingAndGlyphs">5</text>
<path d="M262.10 312.51H266.6" stroke="#222" stroke-width="1"/>
<text x="258" y="315.01" font-size="9.2" text-anchor="end" textLength="4.87" lengthAdjust="spacingAndGlyphs">4</text>
<path d="M262.10 333.28H266.6" stroke="#222" stroke-width="1"/>
<text x="258" y="335.78" font-size="9.2" text-anchor="end" textLength="4.87" lengthAdjust="spacingAndGlyphs">3</text>
<path d="M262.10 354.05H266.6" stroke="#222" stroke-width="1"/>
<text x="258" y="356.55" font-size="9.2" text-anchor="end" textLength="4.87" lengthAdjust="spacingAndGlyphs">2</text>
<path d="M262.10 374.82H266.6" stroke="#222" stroke-width="1"/>
<text x="258" y="377.32" font-size="9.2" text-anchor="end" textLength="4.87" lengthAdjust="spacingAndGlyphs">1</text>
<path d="M262.10 395.59H266.6" stroke="#222" stroke-width="1"/>
<text x="258" y="398.09" font-size="9.2" text-anchor="end" textLength="4.87" lengthAdjust="spacingAndGlyphs">0</text>
<rect x="546.8" y="234.00" width="17.80" height="23.17" fill="#8894c4" stroke="#222" stroke-width="1"/>
<rect x="546.8" y="257.17" width="17.80" height="23.17" fill="#7a2a86" stroke="#222" stroke-width="1"/>
<rect x="546.8" y="280.34" width="17.80" height="23.17" fill="#a51c3c" stroke="#222" stroke-width="1"/>
<rect x="546.8" y="303.51" width="17.80" height="23.17" fill="#e6452b" stroke="#222" stroke-width="1"/>
<rect x="546.8" y="326.69" width="17.80" height="23.17" fill="#f5a74e" stroke="#222" stroke-width="1"/>
<rect x="546.8" y="349.86" width="17.80" height="23.17" fill="#f6dc78" stroke="#222" stroke-width="1"/>
<rect x="546.8" y="373.03" width="17.80" height="23.17" fill="#f8f4b8" stroke="#222" stroke-width="1"/>
<rect x="546.8" y="234" width="17.80" height="162.20" fill="none" stroke="#222" stroke-width="1.3"/>
<path d="M542.30 250.70H546.8" stroke="#222" stroke-width="1"/>
<text x="538.3" y="253.20" font-size="9.2" text-anchor="end" textLength="4.87" lengthAdjust="spacingAndGlyphs">7</text>
<path d="M542.30 271.40H546.8" stroke="#222" stroke-width="1"/>
<text x="538.3" y="273.90" font-size="9.2" text-anchor="end" textLength="4.87" lengthAdjust="spacingAndGlyphs">6</text>
<path d="M542.30 292.10H546.8" stroke="#222" stroke-width="1"/>
<text x="538.3" y="294.60" font-size="9.2" text-anchor="end" textLength="4.87" lengthAdjust="spacingAndGlyphs">5</text>
<path d="M542.30 312.80H546.8" stroke="#222" stroke-width="1"/>
<text x="538.3" y="315.30" font-size="9.2" text-anchor="end" textLength="4.87" lengthAdjust="spacingAndGlyphs">4</text>
<path d="M542.30 333.50H546.8" stroke="#222" stroke-width="1"/>
<text x="538.3" y="336.00" font-size="9.2" text-anchor="end" textLength="4.87" lengthAdjust="spacingAndGlyphs">3</text>
<path d="M542.30 354.20H546.8" stroke="#222" stroke-width="1"/>
<text x="538.3" y="356.70" font-size="9.2" text-anchor="end" textLength="4.87" lengthAdjust="spacingAndGlyphs">2</text>
<path d="M542.30 374.90H546.8" stroke="#222" stroke-width="1"/>
<text x="538.3" y="377.40" font-size="9.2" text-anchor="end" textLength="4.87" lengthAdjust="spacingAndGlyphs">1</text>
<path d="M542.30 395.60H546.8" stroke="#222" stroke-width="1"/>
<text x="538.3" y="398.10" font-size="9.2" text-anchor="end" textLength="4.87" lengthAdjust="spacingAndGlyphs">0</text>
<rect x="266.2" y="442.50" width="18.60" height="20.31" fill="#8b1a1f" stroke="#222" stroke-width="1"/>
<rect x="266.2" y="462.81" width="18.60" height="20.31" fill="#b8202e" stroke="#222" stroke-width="1"/>
<rect x="266.2" y="483.12" width="18.60" height="20.31" fill="#dd3d2c" stroke="#222" stroke-width="1"/>
<rect x="266.2" y="503.44" width="18.60" height="20.31" fill="#f29c5c" stroke="#222" stroke-width="1"/>
<rect x="266.2" y="523.75" width="18.60" height="20.31" fill="#fbe48f" stroke="#222" stroke-width="1"/>
<rect x="266.2" y="544.06" width="18.60" height="20.31" fill="#eef2d2" stroke="#222" stroke-width="1"/>
<rect x="266.2" y="564.38" width="18.60" height="20.31" fill="#a9d1e4" stroke="#222" stroke-width="1"/>
<rect x="266.2" y="584.69" width="18.60" height="20.31" fill="#2c72b4" stroke="#222" stroke-width="1"/>
<rect x="266.2" y="442.5" width="18.60" height="162.50" fill="none" stroke="#222" stroke-width="1.3"/>
<path d="M261.70 462.80H266.2" stroke="#222" stroke-width="1"/>
<text x="259.9" y="465.80" font-size="9.2" text-anchor="end" textLength="17.03" lengthAdjust="spacingAndGlyphs">25.1</text>
<path d="M261.70 488.70H266.2" stroke="#222" stroke-width="1"/>
<text x="259.9" y="491.70" font-size="9.2" text-anchor="end" textLength="17.03" lengthAdjust="spacingAndGlyphs">18.8</text>
<path d="M261.70 514.60H266.2" stroke="#222" stroke-width="1"/>
<text x="259.9" y="517.60" font-size="9.2" text-anchor="end" textLength="17.03" lengthAdjust="spacingAndGlyphs">12.4</text>
<path d="M261.70 540.50H266.2" stroke="#222" stroke-width="1"/>
<text x="259.9" y="543.50" font-size="9.2" text-anchor="end" textLength="12.16" lengthAdjust="spacingAndGlyphs">6.0</text>
<path d="M261.70 566.40H266.2" stroke="#222" stroke-width="1"/>
<text x="259.9" y="569.40" font-size="9.2" text-anchor="end" textLength="15.10" lengthAdjust="spacingAndGlyphs">-0.4</text>
<path d="M261.70 592.30H266.2" stroke="#222" stroke-width="1"/>
<text x="259.9" y="595.30" font-size="9.2" text-anchor="end" textLength="15.10" lengthAdjust="spacingAndGlyphs">-6.8</text>
<rect x="549.6" y="443.10" width="17.30" height="16.19" fill="#8894c4" stroke="#222" stroke-width="1"/>
<rect x="549.6" y="459.29" width="17.30" height="16.19" fill="#7d3c98" stroke="#222" stroke-width="1"/>
<rect x="549.6" y="475.48" width="17.30" height="16.19" fill="#7b1f6e" stroke="#222" stroke-width="1"/>
<rect x="549.6" y="491.67" width="17.30" height="16.19" fill="#a81c3e" stroke="#222" stroke-width="1"/>
<rect x="549.6" y="507.86" width="17.30" height="16.19" fill="#d3292b" stroke="#222" stroke-width="1"/>
<rect x="549.6" y="524.05" width="17.30" height="16.19" fill="#ef6b34" stroke="#222" stroke-width="1"/>
<rect x="549.6" y="540.24" width="17.30" height="16.19" fill="#f5a251" stroke="#222" stroke-width="1"/>
<rect x="549.6" y="556.43" width="17.30" height="16.19" fill="#f8c862" stroke="#222" stroke-width="1"/>
<rect x="549.6" y="572.62" width="17.30" height="16.19" fill="#f7e487" stroke="#222" stroke-width="1"/>
<rect x="549.6" y="588.81" width="17.30" height="16.19" fill="#f8f4b8" stroke="#222" stroke-width="1"/>
<rect x="549.6" y="443.1" width="17.30" height="161.90" fill="none" stroke="#222" stroke-width="1.3"/>
<path d="M545.10 453.60H549.6" stroke="#222" stroke-width="1"/>
<text x="540" y="456.60" font-size="9.2" text-anchor="end" textLength="14.61" lengthAdjust="spacingAndGlyphs">187</text>
<path d="M545.10 483.88H549.6" stroke="#222" stroke-width="1"/>
<text x="540" y="486.88" font-size="9.2" text-anchor="end" textLength="14.61" lengthAdjust="spacingAndGlyphs">150</text>
<path d="M545.10 514.16H549.6" stroke="#222" stroke-width="1"/>
<text x="540" y="517.16" font-size="9.2" text-anchor="end" textLength="14.61" lengthAdjust="spacingAndGlyphs">112</text>
<path d="M545.10 544.44H549.6" stroke="#222" stroke-width="1"/>
<text x="540" y="547.44" font-size="9.2" text-anchor="end" textLength="9.74" lengthAdjust="spacingAndGlyphs">75</text>
<path d="M545.10 574.72H549.6" stroke="#222" stroke-width="1"/>
<text x="540" y="577.72" font-size="9.2" text-anchor="end" textLength="9.74" lengthAdjust="spacingAndGlyphs">37</text>
<path d="M545.10 605.00H549.6" stroke="#222" stroke-width="1"/>
<text x="540" y="608.00" font-size="9.2" text-anchor="end" textLength="4.87" lengthAdjust="spacingAndGlyphs">0</text>

</svg>
</body></html>
